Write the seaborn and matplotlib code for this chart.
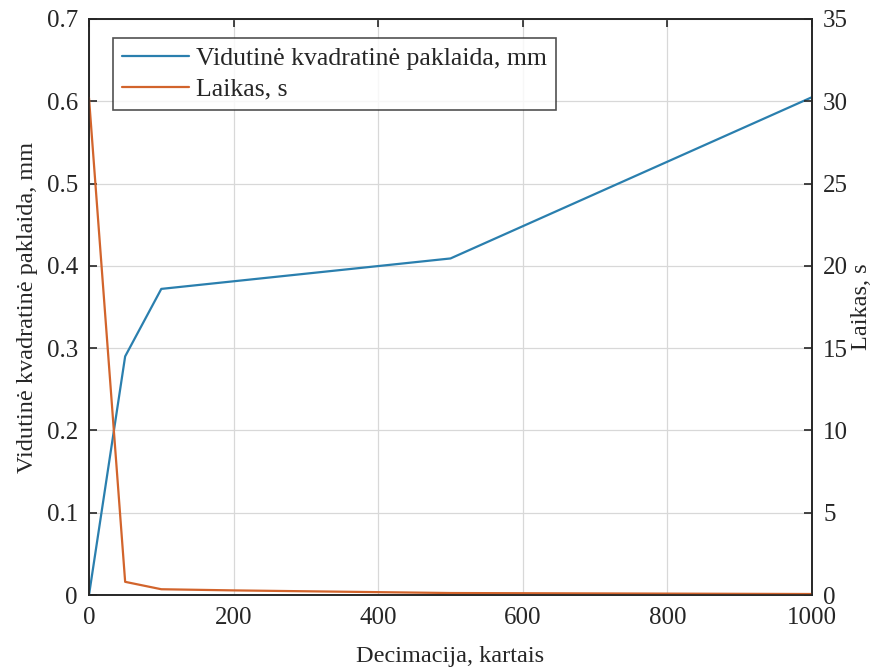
import matplotlib
matplotlib.use("Agg")
import matplotlib.pyplot as plt
import seaborn as sns
import pandas as pd

# Data
x_rmse = [0, 50, 100, 500, 1000]
rmse_mm = [0.0, 0.290, 0.372, 0.409, 0.605]
x_time = [0, 50, 100, 200, 500, 1000]
time_s = [30.2, 0.8, 0.35, 0.28, 0.12, 0.06]

label_rmse = "Vidutinė kvadratinė paklaida, mm"
label_time = "Laikas, s"
xlabel = "Decimacija, kartais"

sns.set_style("white")
plt.rcParams['font.family'] = ['Liberation Serif', 'DejaVu Serif']

blue = "#2a7fae"
orange = "#d2642c"
dark = "#262626"

fig = plt.figure(figsize=(8.86, 6.71), dpi=100)
ax = fig.add_axes([89/886, 1-595/671, (812-89)/886, (595-19)/671])
ax2 = ax.twinx()

df1 = pd.DataFrame({"x": x_rmse, "y": rmse_mm})
df2 = pd.DataFrame({"x": x_time, "y": time_s})
sns.lineplot(data=df1, x="x", y="y", ax=ax, color=blue, lw=1.6, label=label_rmse, legend=False)
sns.lineplot(data=df2, x="x", y="y", ax=ax2, color=orange, lw=1.6, label=label_time, legend=False)

ax.set_xlim(0, 1000)
ax.set_ylim(0, 0.7)
ax2.set_ylim(0, 35)
ax.set_xticks([0, 200, 400, 600, 800, 1000])
ax.set_yticks([0, 0.1, 0.2, 0.3, 0.4, 0.5, 0.6, 0.7])
ax.set_yticklabels(["0", "0.1", "0.2", "0.3", "0.4", "0.5", "0.6", "0.7"])
ax2.set_yticks([0, 5, 10, 15, 20, 25, 30, 35])

ax.grid(True, color="#d8d8d8", lw=0.9)
ax.set_axisbelow(True)

for a in (ax, ax2):
    for s in a.spines.values():
        s.set_color(dark)
        s.set_linewidth(1.2)
ax.tick_params(axis="y", direction="in", length=6, width=1.2, labelsize=18, colors=dark, pad=8)
ax.tick_params(axis="x", direction="in", length=6, width=1.2, labelsize=18, colors=dark, top=True, pad=9)
ax2.tick_params(axis="y", direction="in", length=6, width=1.2, labelsize=18, colors=dark, pad=8)

ax.set_xlabel(xlabel, fontsize=17.5, color=dark, labelpad=12)
ax.set_ylabel(label_rmse, fontsize=17.5, color=dark, labelpad=6)
ax2.set_ylabel(label_time, fontsize=17.5, color=dark, labelpad=2)

h1, l1 = ax.get_legend_handles_labels()
h2, l2 = ax2.get_legend_handles_labels()
leg = ax2.legend(h1 + h2, l1 + l2, loc="upper left", bbox_to_anchor=(0.033, 0.967),
                 fontsize=18.5, frameon=True, fancybox=False, edgecolor=dark,
                 handlelength=2.6, handletextpad=0.3, borderpad=0.35, labelspacing=0.3,
                 borderaxespad=0)
leg.get_frame().set_linewidth(1.2)

fig.savefig("out.png", dpi=100, facecolor="white")
